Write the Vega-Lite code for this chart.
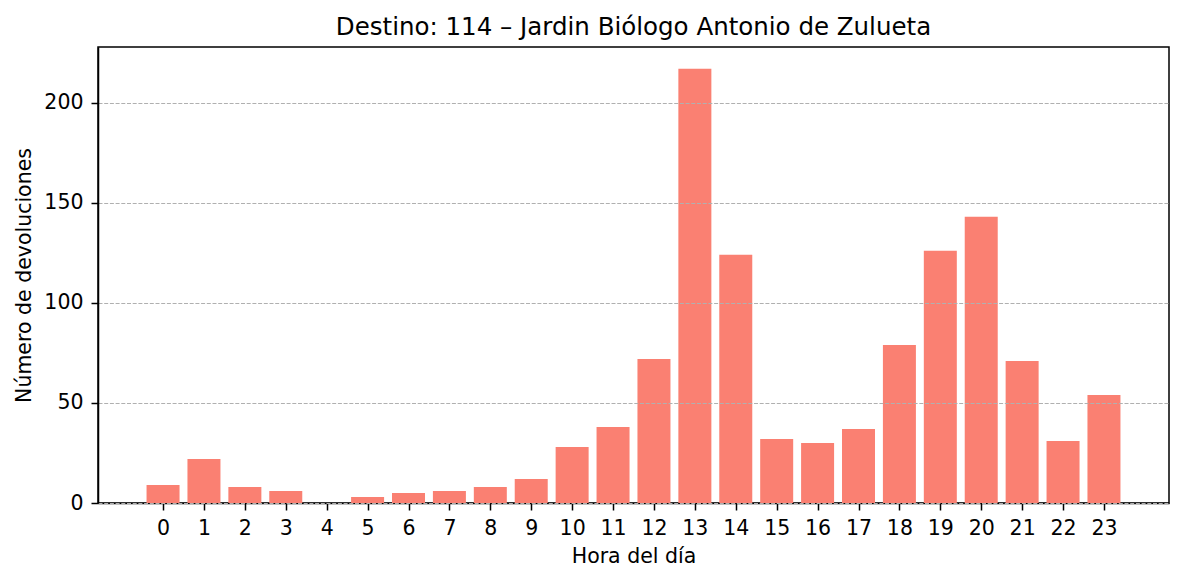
{
  "$schema": "https://vega.github.io/schema/vega-lite/v6.json",
  "width": 1071,
  "height": 456,
  "autosize": {"type": "none"},
  "padding": {"left": 98, "top": 47, "right": 15, "bottom": 78},
  "background": "white",
  "title": {"text": "Destino: 114 – Jardin Biólogo Antonio de Zulueta", "font": "DejaVu Sans", "fontSize": 24.5, "fontWeight": "normal", "color": "black", "offset": 7},
  "config": {
    "view": {"stroke": "black", "strokeWidth": 1.5},
    "font": "DejaVu Sans"
  },
  "data": {"values": [
    {"hora": 0, "n": 9}, {"hora": 1, "n": 22}, {"hora": 2, "n": 8}, {"hora": 3, "n": 6},
    {"hora": 4, "n": 0}, {"hora": 5, "n": 3}, {"hora": 6, "n": 5}, {"hora": 7, "n": 6},
    {"hora": 8, "n": 8}, {"hora": 9, "n": 12}, {"hora": 10, "n": 28}, {"hora": 11, "n": 38},
    {"hora": 12, "n": 72}, {"hora": 13, "n": 217}, {"hora": 14, "n": 124}, {"hora": 15, "n": 32},
    {"hora": 16, "n": 30}, {"hora": 17, "n": 37}, {"hora": 18, "n": 79}, {"hora": 19, "n": 126},
    {"hora": 20, "n": 143}, {"hora": 21, "n": 71}, {"hora": 22, "n": 31}, {"hora": 23, "n": 54}
  ]},
  "mark": {"type": "bar", "color": "#FA8072", "size": 33, "opacity": 1},
  "encoding": {
    "x": {
      "field": "hora", "type": "quantitative",
      "scale": {"domain": [-1.59, 24.59], "nice": false, "zero": false, "padding": 0},
      "axis": {
        "title": "Hora del día", "titleFontSize": 20.5, "titleFontWeight": "normal", "titleColor": "black", "titlePadding": 8,
        "values": [0,1,2,3,4,5,6,7,8,9,10,11,12,13,14,15,16,17,18,19,20,21,22,23],
        "format": "d", "labelFontSize": 20.5, "labelColor": "black", "labelPadding": 8,
        "grid": false, "domainColor": "black", "domainWidth": 1.5, "tickColor": "black", "tickWidth": 1.5, "tickSize": 7, "labelFlush": false, "labelOverlap": false
      }
    },
    "y": {
      "field": "n", "type": "quantitative",
      "scale": {"domain": [0, 227.85], "nice": false},
      "axis": {
        "title": "Número de devoluciones", "titleFontSize": 20.5, "titleFontWeight": "normal", "titleColor": "black", "titlePadding": 9,
        "values": [0, 50, 100, 150, 200], "labelFontSize": 20.5, "labelColor": "black", "labelPadding": 8,
        "grid": true, "gridColor": "#b0b0b0", "gridDash": [4, 1.7], "gridWidth": 1,
        "domainColor": "black", "domainWidth": 1.5, "tickColor": "black", "tickWidth": 1.5, "tickSize": 7, "zindex": 1
      }
    }
  }
}
